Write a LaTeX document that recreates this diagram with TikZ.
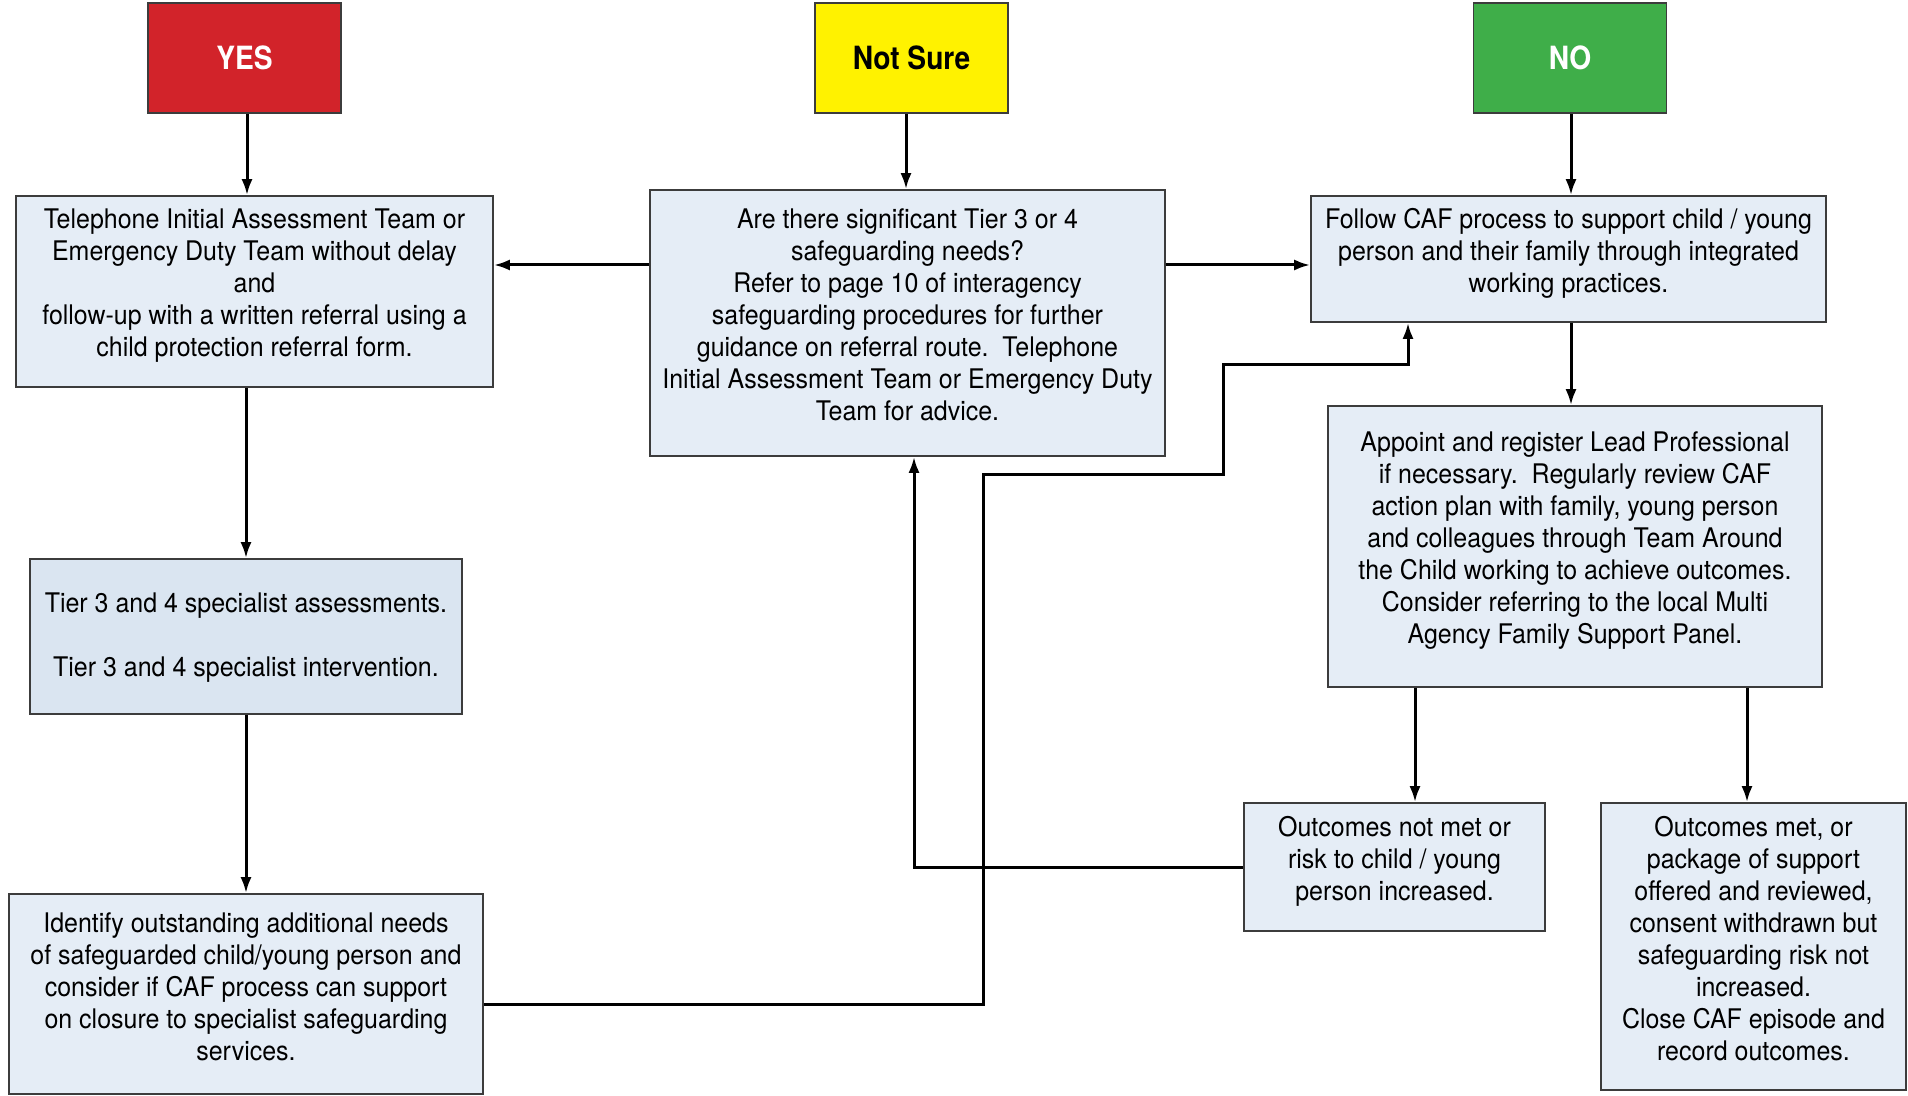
\documentclass[tikz,border=0pt]{standalone}
\usepackage{fontspec}
\setmainfont{TeX Gyre Heros}[FakeStretch=0.925]
\newfontfamily\headfont{TeX Gyre Heros}[FakeStretch=0.88]
\usetikzlibrary{arrows.meta}
\definecolor{yesred}{HTML}{D2232A}
\definecolor{nsyellow}{HTML}{FFF200}
\definecolor{nogreen}{HTML}{3FAE49}
\definecolor{boxfill}{HTML}{E5EDF6}
\definecolor{tierfill}{HTML}{DAE5F1}
\definecolor{edgegray}{HTML}{3C3C3C}
\begin{document}
\begin{tikzpicture}[x=0.5pt,y=-0.5pt,
  head/.style={draw=edgegray,line width=0.8pt,minimum width=96.5pt,minimum height=55pt,inner sep=0pt,font=\headfont\bfseries\fontsize{16}{18}\selectfont},
  panel/.style={draw=edgegray,line width=0.8pt,fill=boxfill,inner sep=0pt},
  txt/.style={align=center,inner sep=0pt,font=\fontsize{13.5}{16}\selectfont,text=black,anchor=north},
  arr/.style={line width=1.5pt,-{Latex[length=8pt,width=5.5pt]}}]
\fill[white] (0,0) rectangle (1908,1096);
\path[use as bounding box] (0,0) rectangle (1908,1096);

% header boxes
\node[head,fill=yesred,text=white] (yes) at (244.5,58) {YES};
\node[head,fill=nsyellow,text=black] (ns) at (911.5,58) {Not Sure};
\node[head,fill=nogreen,text=white] (no) at (1570,58) {NO};

% panels
\node[panel,minimum width=238.5pt,minimum height=95.5pt] (tel) at (254.5,291.5) {};
\node[panel,minimum width=257.5pt,minimum height=133pt] (q) at (907.5,323) {};
\node[panel,minimum width=257.5pt,minimum height=63pt] (caf) at (1568.5,259) {};
\node[panel,minimum width=247pt,minimum height=140.5pt] (ap) at (1575,546.5) {};
\node[panel,fill=tierfill,minimum width=216pt,minimum height=77.5pt] (tier) at (246,636.5) {};
\node[panel,minimum width=237pt,minimum height=100pt] (id) at (246,994) {};
\node[panel,minimum width=150.5pt,minimum height=64pt] (nm) at (1394.5,867) {};
\node[panel,minimum width=152.5pt,minimum height=143.5pt] (met) at (1753.5,946.5) {};

% texts
\node[txt] (tel-t) at ([yshift=-6.5pt]tel.north) {Telephone Initial Assessment Team or\\Emergency Duty Team without delay\\and\\follow-up with a written referral using a\\child protection referral form.};
\node[txt] (q-t) at ([yshift=-9.5pt]q.north) {Are there significant Tier 3 or 4\\safeguarding needs?\\Refer to page 10 of interagency\\safeguarding procedures for further\\guidance on referral route.\ \ Telephone\\Initial Assessment Team or Emergency Duty\\Team for advice.};
\node[txt] (caf-t) at ([yshift=-6.5pt]caf.north) {Follow CAF process to support child / young\\person and their family through integrated\\working practices.};
\node[txt] (ap-t) at ([yshift=-13.25pt]ap.north) {Appoint and register Lead Professional\\if necessary.\ \ Regularly review CAF\\action plan with family, young person\\and colleagues through Team Around\\the Child working to achieve outcomes.\\Consider referring to the local Multi\\Agency Family Support Panel.};
\node[txt] (tier-t) at ([yshift=-17pt]tier.north) {Tier 3 and 4 specialist assessments.\\[16pt]Tier 3 and 4 specialist intervention.};
\node[txt] (id-t) at ([yshift=-9.5pt]id.north) {Identify outstanding additional needs\\of safeguarded child/young person and\\consider if CAF process can support\\on closure to specialist safeguarding\\services.};
\node[txt] (nm-t) at ([yshift=-7pt]nm.north) {Outcomes not met or\\risk to child / young\\person increased.};
\node[txt] (met-t) at ([yshift=-7pt]met.north) {Outcomes met, or\\package of support\\offered and reviewed,\\consent withdrawn but\\safeguarding risk not\\increased.\\Close CAF episode and\\record outcomes.};

% helper coordinates
\coordinate (h1) at (0,265);
\coordinate (h2) at (0,1004);
\coordinate (h3) at (0,475);
\coordinate (h4) at (0,365);
\coordinate (v1) at (983,0);
\coordinate (v2) at (1223,0);
\coordinate (v3) at (1408,0);
\coordinate (v4) at (914,0);
\coordinate (c1) at (1415,0);
\coordinate (c2) at (1747,0);
\coordinate (ay) at (247,0);
\coordinate (an) at (906,0);
\coordinate (ao) at (1571,0);

% connectors
\draw[arr] (ay |- yes.south) -- (ay |- tel.north);
\draw[arr] (an |- ns.south) -- (an |- q.north);
\draw[arr] (ao |- no.south) -- (ao |- caf.north);
\draw[arr] (q.west |- h1) -- (tel.east |- h1);
\draw[arr] (q.east |- h1) -- (caf.west |- h1);
\draw[arr] (ao |- caf.south) -- (ao |- ap.north);
\draw[arr] (tier.north |- tel.south) -- (tier.north);
\draw[arr] (tier.south) -- (tier.south |- id.north);
\draw[arr] (c1 |- ap.south) -- (c1 |- nm.north);
\draw[arr] (c2 |- ap.south) -- (c2 |- met.north);
\draw[arr] (nm.west) -| (v4 |- q.south);
\draw[arr] (id.east |- h2) -| (v1 |- h3) -| (v2 |- h4) -| (v3 |- caf.south);
\end{tikzpicture}
\end{document}
